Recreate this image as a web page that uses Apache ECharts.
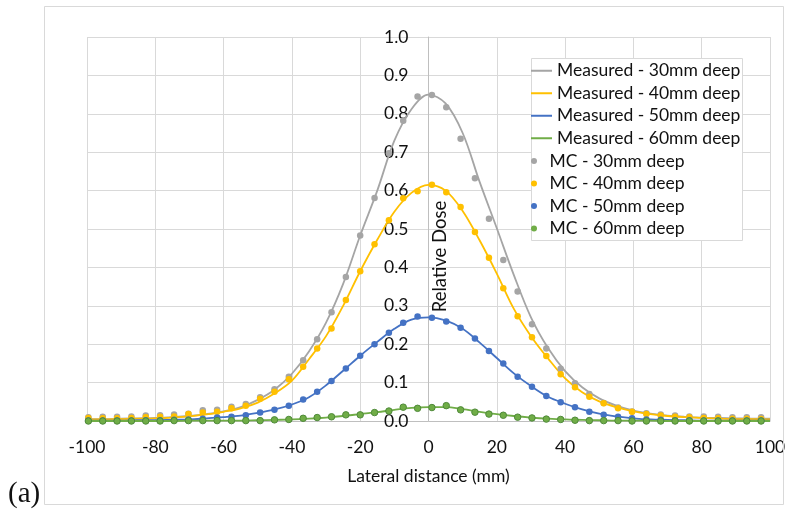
<!DOCTYPE html>
<html>
<head>
<meta charset="utf-8">
<script src="https://cdn.jsdelivr.net/npm/echarts@6/dist/echarts.min.js"></script>
<style>
html,body{margin:0;padding:0;background:#fff;}
#chart{width:792px;height:510px;}
</style>
</head>
<body>
<div id="chart"></div>
<script>
// ---- Data ----
var seriesNames = ['Measured - 30mm deep','Measured - 40mm deep','Measured - 50mm deep','Measured - 60mm deep',
                   'MC - 30mm deep','MC - 40mm deep','MC - 50mm deep','MC - 60mm deep'];
var xTickLabels = ['-100','-80','-60','-40','-20','0','20','40','60','80','100'];
var yTickLabels = ['0.0','0.1','0.2','0.3','0.4','0.5','0.6','0.7','0.8','0.9','1.0'];

// Measured profiles (lateral distance, mm)
var measX = [-100,-95,-90,-85,-80,-75,-70,-65,-60,-55,-50,-45,-40,-35,-30,-25,-20,-15,-10,-5,0,
             5,10,15,20,25,30,35,40,45,50,55,60,65,70,75,80,85,90,95,100];
var meas30 = [0.005,0.005,0.006,0.007,0.008,0.010,0.013,0.018,0.025,0.036,0.055,0.082,0.123,0.181,0.256,0.357,0.483,0.600,0.730,0.812,0.850,
              0.827,0.750,0.622,0.502,0.380,0.270,0.190,0.130,0.088,0.059,0.040,0.027,0.019,0.014,0.011,0.009,0.008,0.007,0.006,0.006];
var meas40 = [0.004,0.004,0.005,0.006,0.007,0.009,0.012,0.017,0.024,0.033,0.048,0.072,0.105,0.161,0.221,0.300,0.390,0.472,0.545,0.594,0.615,
              0.600,0.547,0.470,0.384,0.292,0.221,0.163,0.111,0.075,0.051,0.036,0.025,0.018,0.013,0.010,0.008,0.006,0.005,0.005,0.004];
var meas50 = [0.001,0.001,0.001,0.002,0.002,0.003,0.004,0.007,0.010,0.014,0.021,0.030,0.043,0.062,0.093,0.131,0.170,0.206,0.240,0.264,0.270,
              0.262,0.240,0.204,0.164,0.124,0.091,0.063,0.045,0.030,0.019,0.012,0.007,0.004,0.003,0.002,0.001,0.001,0.001,0.001,0.001];
var meas60 = [0.000,0.000,0.000,0.000,0.000,0.000,0.001,0.001,0.001,0.001,0.002,0.003,0.004,0.006,0.009,0.013,0.018,0.023,0.029,0.034,0.036,
              0.036,0.031,0.024,0.018,0.013,0.009,0.006,0.004,0.003,0.002,0.001,0.001,0.001,0.000,0.000,0.000,0.000,0.000,0.000,0.000];

// Monte Carlo profiles
var mcX = [-99.6,-95.4,-91.2,-87.0,-82.8,-78.6,-74.5,-70.3,-66.1,-61.9,-57.7,-53.5,-49.3,-45.1,-40.9,-36.7,-32.6,-28.4,-24.2,-20.0,
           -15.8,-11.6,-7.4,-3.2,1.0,5.2,9.4,13.6,17.7,21.9,26.1,30.3,34.5,38.7,42.9,47.1,51.3,55.5,59.6,63.8,68.0,72.2,76.4,80.6,84.8,89.0,93.2,97.4];
var mc30 = [0.010,0.011,0.011,0.012,0.014,0.015,0.017,0.019,0.028,0.029,0.037,0.044,0.062,0.083,0.115,0.158,0.213,0.283,0.375,0.483,
            0.581,0.697,0.782,0.845,0.849,0.817,0.735,0.632,0.527,0.419,0.337,0.252,0.189,0.136,0.098,0.070,0.047,0.035,0.025,0.020,0.017,0.014,0.012,0.012,0.011,0.010,0.010,0.010];
var mc40 = [0.008,0.007,0.007,0.008,0.010,0.011,0.012,0.018,0.022,0.024,0.033,0.040,0.058,0.076,0.109,0.141,0.189,0.241,0.315,0.390,
            0.460,0.523,0.580,0.598,0.615,0.596,0.557,0.492,0.425,0.346,0.273,0.218,0.169,0.122,0.088,0.063,0.046,0.033,0.024,0.018,0.014,0.011,0.010,0.008,0.007,0.006,0.006,0.005];
var mc50 = [0.001,0.001,0.001,0.001,0.002,0.002,0.003,0.004,0.006,0.009,0.011,0.015,0.022,0.029,0.040,0.056,0.076,0.104,0.137,0.170,
            0.200,0.230,0.256,0.272,0.269,0.259,0.243,0.215,0.182,0.150,0.115,0.089,0.065,0.049,0.036,0.024,0.016,0.011,0.007,0.004,0.003,0.002,0.002,0.001,0.001,0.001,0.001,0.001];
var mc60 = [0.000,0.000,0.000,0.000,0.000,0.000,0.001,0.001,0.001,0.001,0.001,0.001,0.001,0.003,0.004,0.007,0.009,0.011,0.016,0.016,
            0.022,0.026,0.036,0.033,0.035,0.040,0.029,0.023,0.018,0.015,0.010,0.008,0.005,0.004,0.002,0.001,0.001,0.001,0.000,0.000,0.000,0.000,0.000,0.000,0.000,0.000,0.000,0.000];

var colors = ['#A5A5A5','#FFC000','#4472C4','#70AD47'];
var borders = [null, null, null, '#4f8a3a'];
var FONT = 'Lato';

function zip(xs, ys){ return xs.map(function(x,i){ return [x, ys[i]]; }); }

var measured = [meas30, meas40, meas50, meas60];
var mc = [mc30, mc40, mc50, mc60];

var series = [];
measured.forEach(function(d,i){
  series.push({
    name: seriesNames[i], type:'line', data: zip(measX, d),
    smooth: 0.35, symbol:'none', showSymbol:false,
    lineStyle:{color:colors[i], width:1.8}, itemStyle:{color:colors[i]}, z:2
  });
});
mc.forEach(function(d,i){
  var st = {color:colors[i], opacity:1};
  if (borders[i]) { st.borderColor = borders[i]; st.borderWidth = 1; }
  series.push({
    name: seriesNames[4+i], type:'scatter', data: zip(mcX, d),
    symbol:'circle', symbolSize: 6.5,
    itemStyle: st, z:3
  });
});

var mcLegendData = seriesNames.slice(4).map(function(n){
  return {name:n, itemStyle:{borderWidth:0}};
});

var GRID_W = 683;
var chart = echarts.init(document.getElementById('chart'), null, {renderer:'canvas'});
chart.setOption({
  animation:false,
  backgroundColor:'#fff',
  grid:{left:87, right:22, top:37, bottom:89, containLabel:false},
  xAxis:{
    type:'value', min:-100, max:100, interval:20,
    axisLine:{show:true, onZero:false, lineStyle:{color:'#bfbfbf', width:1}},
    axisTick:{show:false},
    axisLabel:{margin:17, color:'#111', fontFamily:FONT, fontSize:17.5,
      formatter:function(v){ var i=Math.round((v+100)/20); return xTickLabels[i]; }},
    splitLine:{show:true, lineStyle:{color:'#d9d9d9', width:1}},
    name:'Lateral distance (mm)', nameLocation:'middle', nameGap:46,
    nameTextStyle:{color:'#111', fontFamily:FONT, fontSize:17.5}
  },
  yAxis:{
    type:'value', min:0, max:1, interval:0.1,
    position:'left', offset:-GRID_W/2,
    axisLine:{show:true, onZero:false, lineStyle:{color:'#bfbfbf', width:1}},
    axisTick:{show:false},
    axisLabel:{margin:20, color:'#111', fontFamily:FONT, fontSize:17.5,
      formatter:function(v){ return yTickLabels[Math.round(v*10)]; }},
    splitLine:{show:true, lineStyle:{color:'#d9d9d9', width:1}}
  },
  legend:[
    {
      orient:'vertical', left:531, top:59.5, itemGap:0, itemWidth:21, itemHeight:2,
      icon:'rect', padding:0,
      textStyle:{fontFamily:FONT, fontSize:17.5, color:'#111', lineHeight:22.5},
      data: seriesNames.slice(0,4)
    },
    {
      orient:'vertical', left:531, top:149.75, itemGap:0, itemWidth:21, itemHeight:6,
      icon:'circle', padding:0,
      textStyle:{fontFamily:FONT, fontSize:17.5, color:'#111', lineHeight:22.5},
      data: mcLegendData
    }
  ],
  graphic:[
    {type:'rect', shape:{x:44.5, y:6.5, width:739, height:498}, style:{fill:'none', stroke:'#d9d9d9', lineWidth:1}, z:1, silent:true},
    {type:'rect', shape:{x:531.5, y:58.5, width:211, height:182}, style:{fill:'#fff', stroke:'#d9d9d9', lineWidth:1}, z:3, silent:true},
    {type:'text', x:440, y:256.5, rotation:Math.PI/2,
      style:{text:'Relative Dose', fontFamily:FONT, fontSize:18.5, fill:'#111', textAlign:'center', textVerticalAlign:'middle'}, z:5},
    {type:'text', x:8, y:494,
      style:{text:'(a)', fontFamily:'Liberation Serif', fontSize:29, fill:'#111', textAlign:'left', textVerticalAlign:'middle'}, z:5}
  ],
  series: series
});
</script>
</body>
</html>
